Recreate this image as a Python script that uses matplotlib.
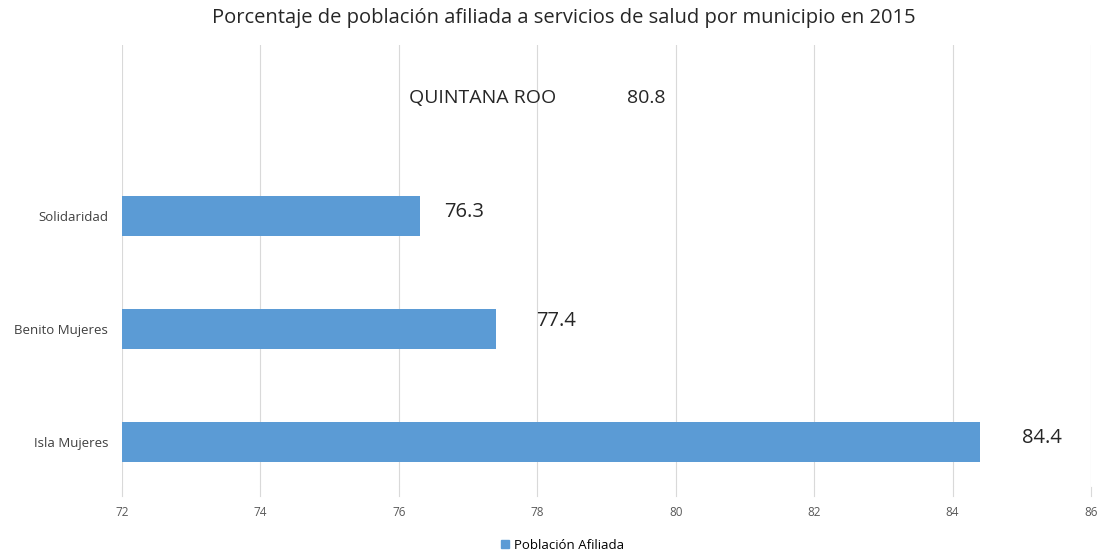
import matplotlib
matplotlib.use("Agg")
import matplotlib.pyplot as plt
from matplotlib.patches import Patch

categories = ["Isla Mujeres", "Benito Mujeres", "Solidaridad"]
values = [84.4, 77.4, 76.3]
state_name = "QUINTANA ROO"
state_value = 80.8
xticks = [72, 74, 76, 78, 80, 82, 84, 86]
title = "Porcentaje de población afiliada a servicios de salud por municipio en 2015"
legend_label = "Población Afiliada"

plt.rcParams['font.family'] = ['Open Sans', 'DejaVu Sans']
color = "#5B9BD5"

fig = plt.figure(figsize=(10.99, 5.57), dpi=100)
ax = fig.add_axes([0.111, 0.1257, 0.8817, 0.7933])

ypos = list(range(len(categories)))
ax.barh(ypos, [v - xticks[0] for v in values], left=xticks[0], height=0.35, color=color, zorder=3)
ax.set_xlim(xticks[0], xticks[-1])
ax.set_ylim(-0.4, 3.51)
ax.set_xticks(xticks)
ax.set_xticklabels([str(t) for t in xticks], fontsize=8.5, color="#595959")
ax.set_yticks(ypos)
ax.set_yticklabels(categories, fontsize=9.5, color="#404040")
ax.tick_params(axis='y', length=0, pad=10)
ax.tick_params(axis='x', length=0, pad=14)
for s in ax.spines.values():
    s.set_visible(False)
ax.grid(axis='x', color="#D9D9D9", linewidth=0.8, zorder=0)
for t in xticks:
    ax.plot([t, t], [-0.4, -0.48], color="#D9D9D9", linewidth=0.8, clip_on=False, zorder=0)

# label offsets per category (Isla, Benito, Solidaridad)
offsets = [(0.6, 0.03), (0.58, 0.07), (0.36, 0.03)]
for y, v, (dx, dy) in zip(ypos, values, offsets):
    ax.text(v + dx, y + dy, f"{v:.1f}", fontsize=14.5, color="#262626", va='center', ha='left')

ax.text(76.15, 3.04, state_name, fontsize=14, color="#262626", va='center', ha='left')
ax.text(79.3, 3.04, f"{state_value:.1f}", fontsize=14, color="#262626", va='center', ha='left')

fig.text(0.513, 0.968, title, fontsize=14.5, color="#262626", ha='center', va='center')
fig.legend(handles=[Patch(color=color, label=legend_label)], loc='lower center',
           bbox_to_anchor=(0.512, -0.012), frameon=False, fontsize=9.5,
           handlelength=0.6, handleheight=0.6, handletextpad=0.4)

fig.savefig("out.png", dpi=100)
